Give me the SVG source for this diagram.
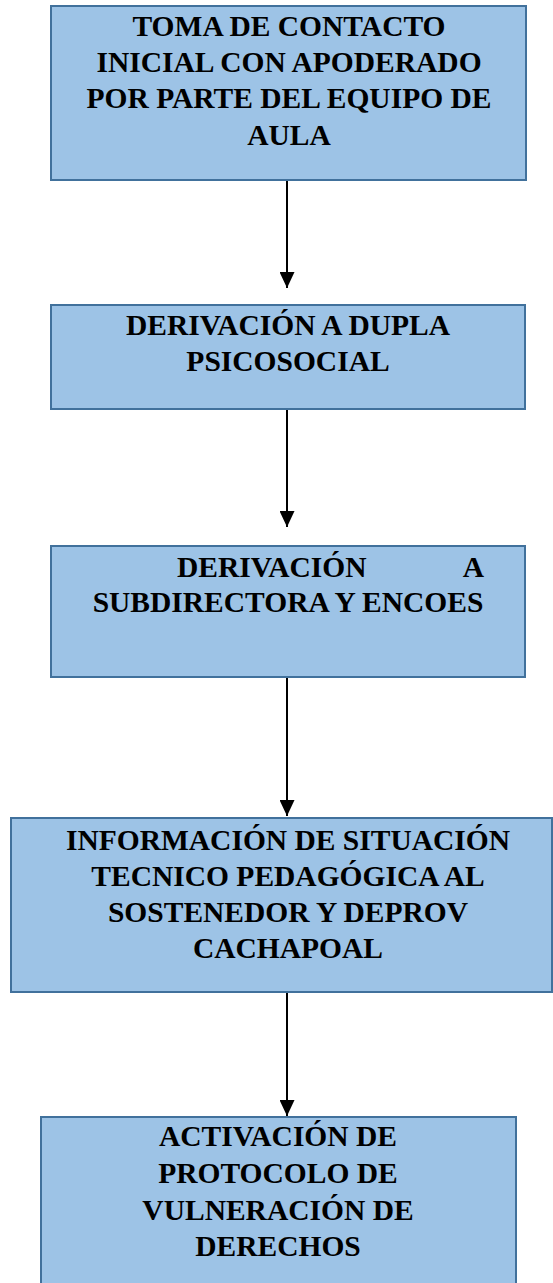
<svg xmlns="http://www.w3.org/2000/svg" width="553" height="1283" viewBox="0 0 553 1283">
<defs>
<style>
.box{fill:#9DC3E6;stroke:#41719C;stroke-width:2}
.t{font-family:"Liberation Serif","Times New Roman",serif;font-weight:bold;font-size:29.5px;fill:#000;text-anchor:middle}
.c{stroke:#000;stroke-width:2;fill:none}
</style>
<marker id="ah" viewBox="0 0 16 15" refX="16" refY="7.5" markerWidth="16" markerHeight="15" markerUnits="userSpaceOnUse" orient="auto">
<path d="M0,0 L16,7.5 L0,15 Z" fill="#000"/>
</marker>
</defs>
<rect width="553" height="1283" fill="#fff"/>
<g id="connectors">
<line class="c" x1="287" y1="180" x2="287" y2="288" marker-end="url(#ah)"/>
<line class="c" x1="287" y1="409" x2="287" y2="527" marker-end="url(#ah)"/>
<line class="c" x1="287" y1="677" x2="287" y2="816" marker-end="url(#ah)"/>
<line class="c" x1="287" y1="992" x2="287" y2="1116" marker-end="url(#ah)"/>
</g>
<g id="n1">
<rect class="box" x="51" y="6" width="475" height="174"/>
<text class="t" x="289" y="36">TOMA DE CONTACTO</text>
<text class="t" x="289" y="72">INICIAL CON APODERADO</text>
<text class="t" x="289" y="108">POR PARTE DEL EQUIPO DE</text>
<text class="t" x="289" y="145">AULA</text>
</g>
<g id="n2">
<rect class="box" x="51" y="305" width="474" height="104"/>
<text class="t" x="288" y="335">DERIVACIÓN A DUPLA</text>
<text class="t" x="288" y="371">PSICOSOCIAL</text>
</g>
<g id="n3">
<rect class="box" x="51" y="546" width="474" height="131"/>
<text class="t" x="177" y="577" style="text-anchor:start">DERIVACIÓN</text>
<text class="t" x="484" y="577" style="text-anchor:end">A</text>
<text class="t" x="288" y="612">SUBDIRECTORA Y ENCOES</text>
</g>
<g id="n4">
<rect class="box" x="11" y="818" width="541" height="174"/>
<text class="t" x="288" y="850">INFORMACIÓN DE SITUACIÓN</text>
<text class="t" x="288" y="886">TECNICO PEDAGÓGICA AL</text>
<text class="t" x="288" y="922">SOSTENEDOR Y DEPROV</text>
<text class="t" x="288" y="958">CACHAPOAL</text>
</g>
<g id="n5">
<rect class="box" x="41" y="1117" width="475" height="175"/>
<text class="t" x="278" y="1146">ACTIVACIÓN DE</text>
<text class="t" x="278" y="1183">PROTOCOLO DE</text>
<text class="t" x="278" y="1220">VULNERACIÓN DE</text>
<text class="t" x="278" y="1256">DERECHOS</text>
</g>
</svg>
